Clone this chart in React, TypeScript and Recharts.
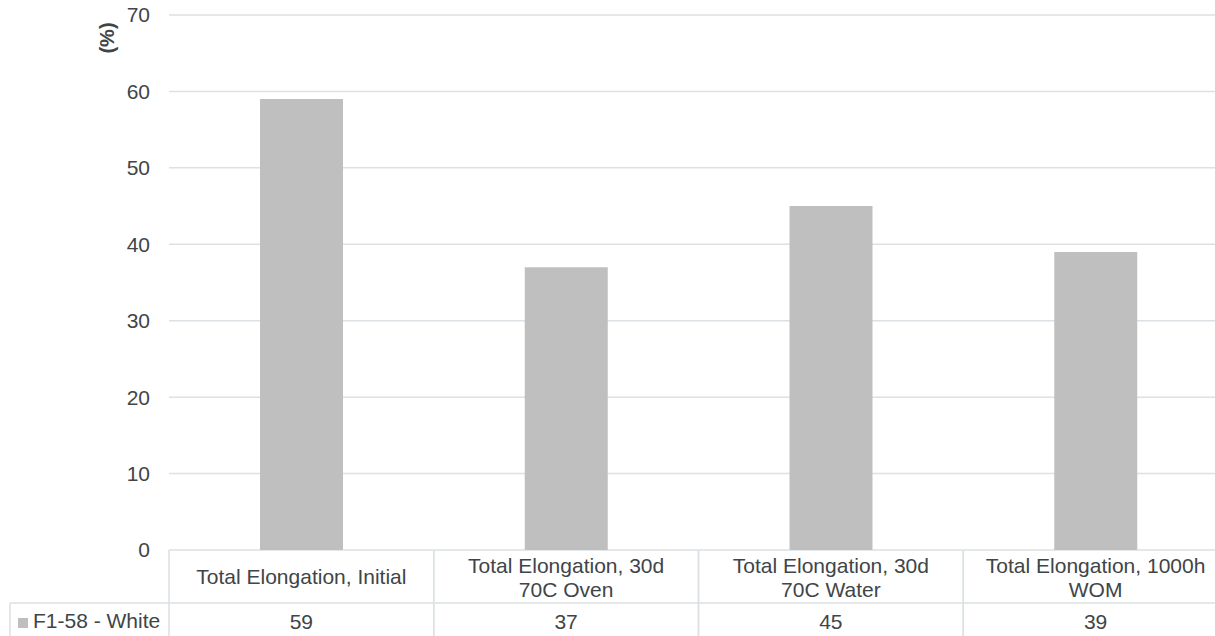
import React from 'react';
import { BarChart, Bar, XAxis, YAxis, CartesianGrid } from 'recharts';

// Test categories (line breaks mark where the table header wraps)
const categories: string[] = [
  'Total Elongation, Initial',
  'Total Elongation, 30d\n70C Oven',
  'Total Elongation, 30d\n70C Water',
  'Total Elongation, 1000h\nWOM',
];
const seriesName = 'F1-58 - White';
const elongation: number[] = [59, 37, 45, 39];
const yTicks: number[] = [0, 10, 20, 30, 40, 50, 60, 70];

const data = categories.map((c, i) => ({ category: c, value: elongation[i] }));

const FONT = '"Liberation Sans", Arial, sans-serif';
const FS = 21;
const TEXT = '#404548';
const LINE = '#dbe1e4';
const BAR = '#bfbfbf';

const CHART_W = 1228;
const CHART_H = 636;
const AXIS_W = 169;
const TABLE_H = 86;
const TOP = 15;
const BAND = (CHART_W - AXIS_W) / categories.length;
const ROW1 = 53;

const TableTick = (props: any) => {
  const { x, y, payload } = props;
  const idx: number = payload.index;
  const left = x - BAND / 2;
  const right = x + BAND / 2;
  const lines = String(payload.value).split('\n');
  const value = elongation[idx];
  return (
    <g fontFamily={FONT} fontSize={FS} fill={TEXT}>
      {/* cell borders */}
      <line x1={left} y1={y} x2={left} y2={y + TABLE_H} stroke={LINE} strokeWidth={1.5} />
      <line x1={left} y1={y + ROW1} x2={right} y2={y + ROW1} stroke={LINE} strokeWidth={1.5} />
      <line x1={right} y1={y} x2={right} y2={y + TABLE_H} stroke={LINE} strokeWidth={1.5} />
      {lines.length === 1 ? (
        <text x={x} y={y + 34} textAnchor="middle">{lines[0]}</text>
      ) : (
        lines.map((ln, i) => (
          <text key={i} x={x} y={y + 23 + i * 24} textAnchor="middle">{ln}</text>
        ))
      )}
      <text x={x} y={y + 79} textAnchor="middle">{value}</text>
      {idx === 0 && (
        <g>
          {/* series header cell with legend key */}
          <line x1={10} y1={y + ROW1} x2={left} y2={y + ROW1} stroke={LINE} strokeWidth={1.5} />
          <line x1={10} y1={y + ROW1} x2={10} y2={y + TABLE_H} stroke={LINE} strokeWidth={1.5} />
          <rect x={18} y={y + 68} width={10} height={10} fill={BAR} />
          <text x={33} y={y + 78} textAnchor="start">{seriesName}</text>
        </g>
      )}
    </g>
  );
};

const UnitLabel = (props: any) => {
  const vb = props.viewBox || { x: 0, y: TOP };
  const cx = vb.x + 107;
  const cy = vb.y + 23;
  return (
    <text
      x={cx}
      y={cy}
      transform={`rotate(-90, ${cx}, ${cy})`}
      textAnchor="middle"
      dominantBaseline="central"
      fontFamily={FONT}
      fontSize={20}
      fontWeight="bold"
      fill={TEXT}
    >
      (%)
    </text>
  );
};

export default function App() {
  return (
    <div
      style={{
        position: 'absolute',
        left: 0,
        top: 0,
        width: 1215,
        height: 636,
        overflow: 'hidden',
        background: '#fff',
      }}
    >
      <BarChart
        width={CHART_W}
        height={CHART_H}
        data={data}
        margin={{ top: TOP, right: 0, bottom: 0, left: 0 }}
      >
        <CartesianGrid vertical={false} stroke={LINE} strokeWidth={1.5} />
        <XAxis
          dataKey="category"
          height={TABLE_H}
          axisLine={false}
          tickLine={false}
          tickSize={0}
          tickMargin={0}
          interval={0}
          tick={<TableTick />}
        />
        <YAxis
          width={AXIS_W}
          domain={[0, 70]}
          ticks={yTicks}
          interval={0}
          axisLine={false}
          tickLine={false}
          tickSize={0}
          tickMargin={19}
          tick={{ fontFamily: FONT, fontSize: FS, fill: TEXT }}
          label={<UnitLabel />}
        />
        <Bar dataKey="value" fill={BAR} barSize={83} isAnimationActive={false} />
      </BarChart>
    </div>
  );
}
